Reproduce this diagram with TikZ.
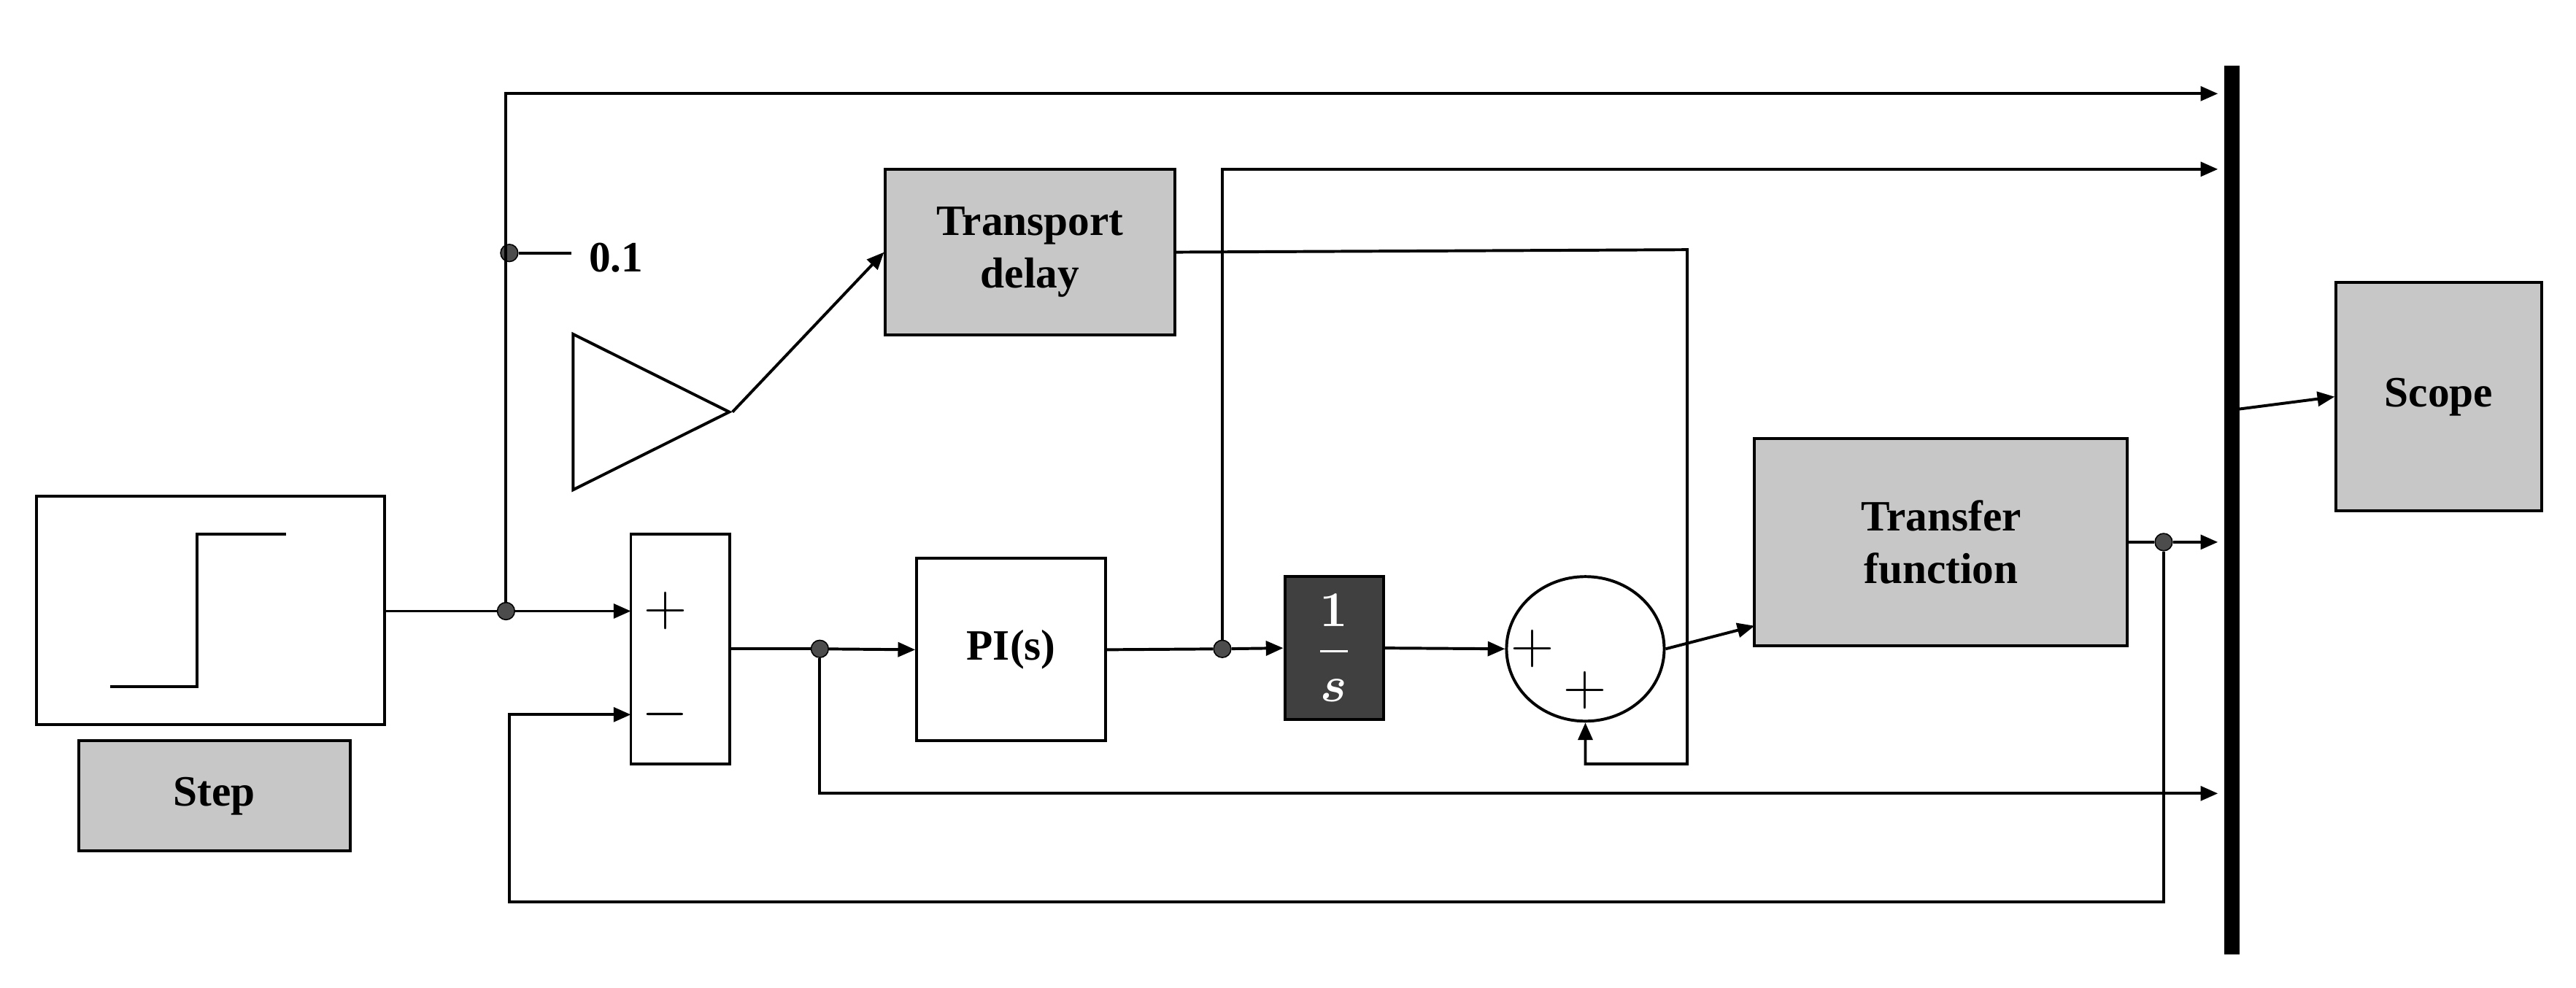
\documentclass[tikz,border=0pt]{standalone}
\usepackage{amsmath}
\usepackage{fontspec}
\setmainfont{Liberation Serif}
\usetikzlibrary{arrows.meta,shapes.geometric,calc}
\begin{document}
\begin{tikzpicture}[x=0.02cm,y=-0.02cm,
  every node/.style={font=\fontsize{15}{18}\selectfont\bfseries},
  blk/.style={draw,line width=1pt,inner sep=0pt,align=center},
  gray/.style={blk,fill=black!22},
  ln/.style={line width=1pt},
  ar/.style={ln,-{Triangle[length=6pt,width=5pt]}},
  dot/.style={circle,fill=black!70,draw=black,inner sep=0pt,minimum size=6pt}]
\useasboundingbox (0,0) rectangle (1568,601);
% blocks
\node[blk,minimum width=212*0.02cm,minimum height=139*0.02cm] (step) at (128,371.5) {};
\draw[ln] (67,418) -- (120,418) -- (120,325) -- (174,325);
\node[gray,minimum width=165*0.02cm,minimum height=67*0.02cm] (steplab) at (130.5,484.5) {Step};
\node[blk,minimum width=60*0.02cm,minimum height=140*0.02cm] (sum1) at (414,395) {};
\node at (405,372) {\fontsize{20}{20}\selectfont\mdseries $+$};
\node at (405,435) {\fontsize{20}{20}\selectfont\mdseries $-$};
\node[blk,isosceles triangle,isosceles triangle apex angle=53,minimum height=95*0.02cm,anchor=left corner,shape border rotate=0] (gain) at (348,202) {};
\node at (375,157) {0.1};
\node[gray,minimum width=176*0.02cm,minimum height=101*0.02cm] (td) at (627,153.5) {Transport\\delay};
\node[blk,minimum width=115*0.02cm,minimum height=111*0.02cm] (pi) at (615.5,395.5) {PI(s)};
\node[blk,fill=black!75,minimum width=60*0.02cm,minimum height=87*0.02cm,text=white] (int) at (812,394.5) {\fontsize{17}{17}\selectfont$\boldsymbol{\dfrac{1}{s}}$};
\node[blk,ellipse,minimum width=96*0.02cm,minimum height=88*0.02cm] (sum2) at (965,395) {};
\node at (933,395) {\fontsize{20}{20}\selectfont\mdseries $+$};
\node at (965,420) {\fontsize{20}{20}\selectfont\mdseries $+$};
\node[gray,minimum width=227*0.02cm,minimum height=126*0.02cm] (tf) at (1181.5,330) {Transfer\\function};
\node[gray,minimum width=125*0.02cm,minimum height=139*0.02cm] (scope) at (1484.5,241.5) {Scope};
\fill (1354,40) rectangle (1363,581);
% junctions
\node[dot] (j1) at (308,372) {};
\node[dot] (j2) at (310,154) {};
\node[dot] (j3) at (499,395) {};
\node[dot] (j4) at (744,395) {};
\node[dot] (j5) at (1317,330) {};
% connectors
\draw[ln] (step.east |- j1) -- (j1);
\draw[ar] (j1) -- (384,372);
\draw[ar] (j1) -- (308,57) -- (1350,57);
\draw[ln] (j2) -- (gain.west |- j2);
\draw[ar] (gain.apex) -- (td.west);
\draw[ln] (sum1.east |- j3) -- (j3);
\draw[ar] (j3) -- (pi.west);
\draw[ar] (j3) -- (499,483) -- (1350,483);
\draw[ln] (pi.east) -- (j4);
\draw[ar] (j4) -- (int.west);
\draw[ar] (j4) -- (744,103) -- (1350,103);
\draw[ar] (int.east) -- (sum2.west);
\draw[ar] (td.east) -- (1027,152) -- (1027,465) -- (965,465) -- (sum2.south);
\draw[ar] (sum2.east) -- (1068,381);
\draw[ln] (tf.east |- j5) -- (j5);
\draw[ar] (j5) -- (1350,330);
\draw[ar] (j5) -- (1317,549) -- (310,549) -- (310,435) -- (384,435);
\draw[ar] (1363,249) -- (scope.west);
\end{tikzpicture}
\end{document}
